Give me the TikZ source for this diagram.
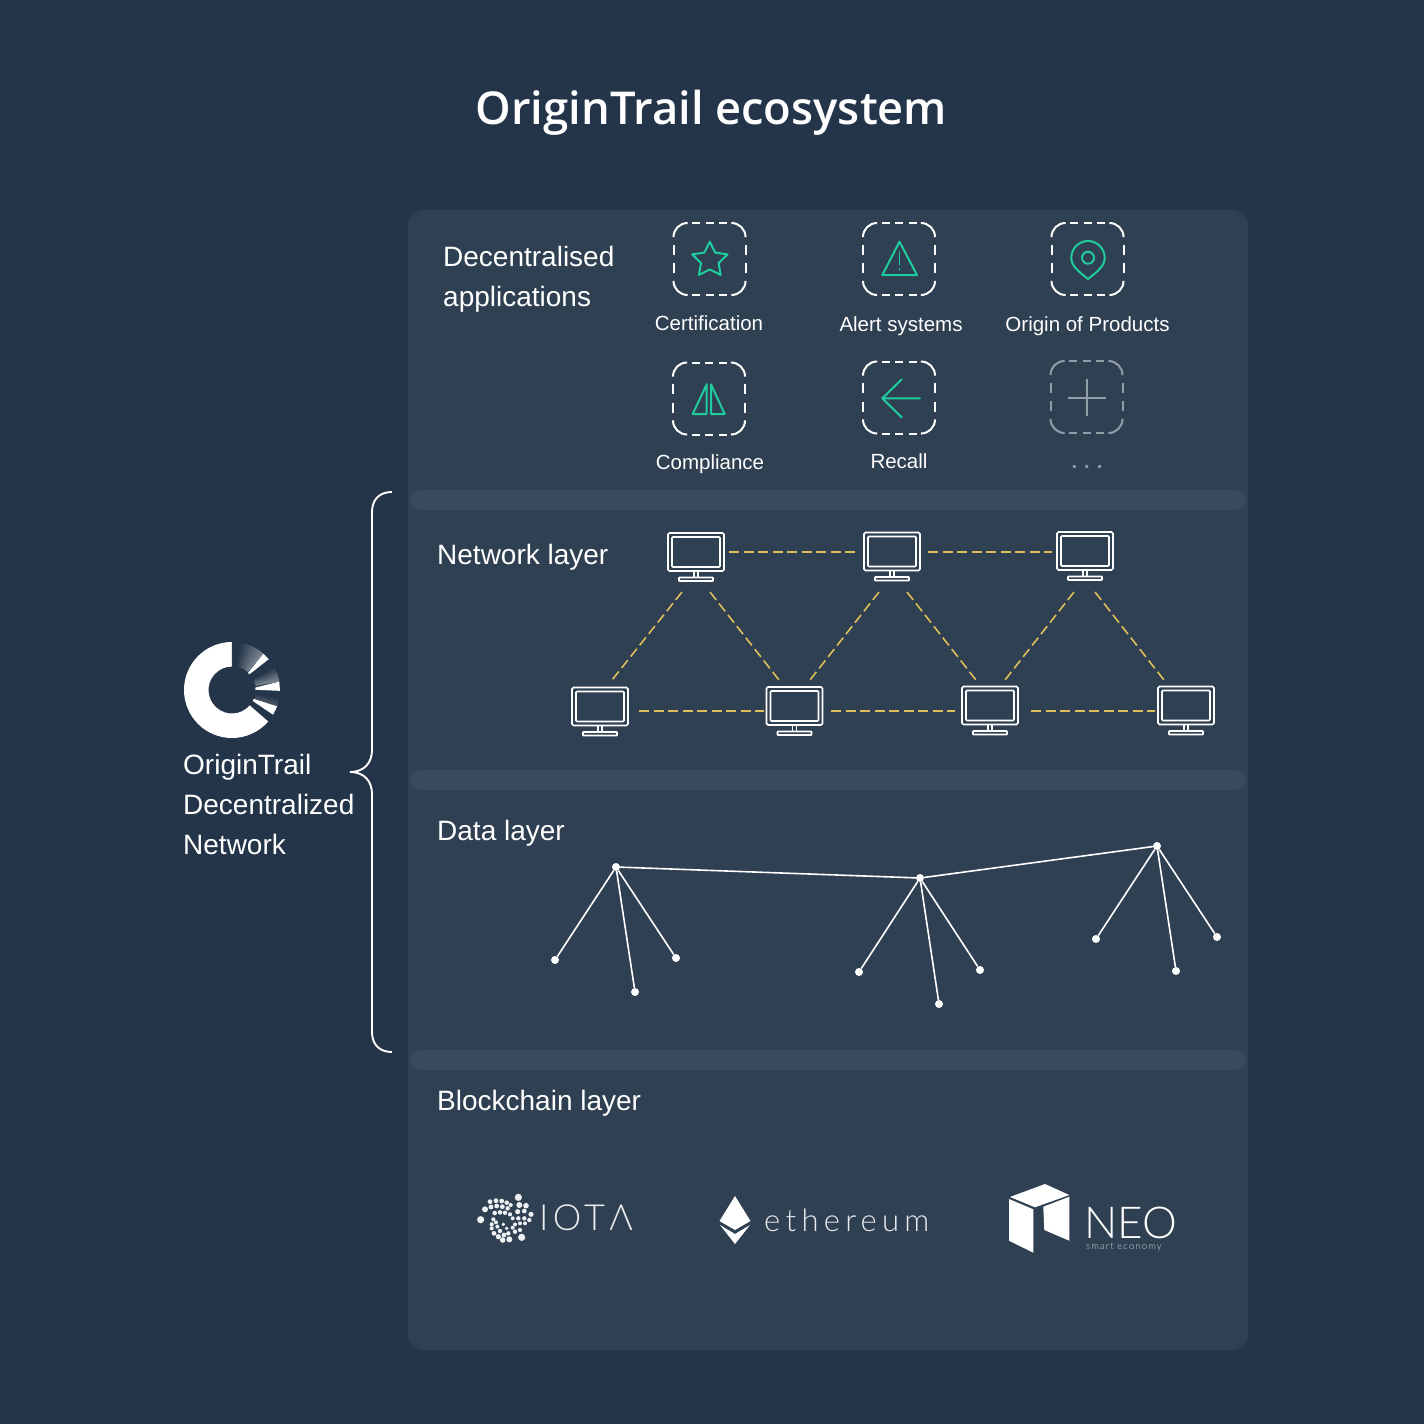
\documentclass[tikz,border=0pt]{standalone}
\usepackage{fontspec}
\usetikzlibrary{calc}
\setmainfont{Liberation Sans}
\newfontfamily\titlef{Open Sans Semibold}
\newfontfamily\thinf[LetterSpace=17]{Lato Light}
\newfontfamily\thinc[LetterSpace=12]{Lato Light}
\newfontfamily\thinb{Lato Light}
\definecolor{bg}{HTML}{243549}
\definecolor{panel}{HTML}{2F4052}
\definecolor{band}{HTML}{3A4A5D}
\definecolor{teal}{HTML}{20CC9E}
\definecolor{gold}{HTML}{DDBE5A}
\definecolor{muted}{HTML}{939DA8}
\tikzset{
  x=1pt,y=-1pt,
  heading/.style={anchor=base west,inner sep=0pt,text=white,font=\fontsize{28}{40}\selectfont,align=left},
  caption/.style={anchor=base,inner sep=0pt,text=white,font=\fontsize{20.5}{24}\selectfont},
  slot/.style={minimum width=72pt,minimum height=72pt,inner sep=0pt},
  glyph/.style={draw=teal,line width=2pt,line join=round,line cap=round},
  screen/.style={minimum width=56pt,minimum height=38pt,inner sep=0pt},
  link/.style={draw=gold,line width=1.6pt,dash pattern=on 10pt off 4.5pt},
  tree/.style={draw=white,line width=1.6pt},
  dotnode/.style={circle,fill=white,inner sep=0pt,minimum size=8pt},
  dashbox/.pic={
    \draw[pic actions,line width=2pt,rounded corners=14pt,line cap=round]
      (-36,-22.5)--(-36,-36)--(-22.5,-36)
      (22.5,-36)--(36,-36)--(36,-22.5)
      (36,22.5)--(36,36)--(22.5,36)
      (-22.5,36)--(-36,36)--(-36,22.5);
    \draw[pic actions,line width=2pt]
      (-17.5,-36)--(-9.5,-36) (-4,-36)--(4,-36) (9.5,-36)--(17.5,-36)
      (-17.5,36)--(-9.5,36) (-4,36)--(4,36) (9.5,36)--(17.5,36)
      (-36,-14.3)--(-36,-4.3) (-36,4.3)--(-36,14.3)
      (36,-14.3)--(36,-4.3) (36,4.3)--(36,14.3);
  },
  monitor/.pic={
    \draw[white,line width=1.6pt,rounded corners=1.5pt] (-28,-19) rectangle (28,19);
    \draw[white,line width=1.6pt,rounded corners=1pt] (-24,-15) rectangle (24,15);
    \draw[white,line width=1.4pt] (-2,19) rectangle (2,25.5);
    \draw[white,line width=1.6pt,rounded corners=.5pt] (-17,25.5) rectangle (17,29);
  }
}
\begin{document}
\begin{tikzpicture}
\useasboundingbox (0,0) rectangle (1424,1424);
\fill[bg] (0,0) rectangle (1424,1424);
\fill[panel,rounded corners=16pt] (408,210) rectangle (1248,1350);
\foreach \yy in {490,770,1050}
  \fill[band,rounded corners=10pt] (410,\yy) rectangle (1246,\yy+20);

% title
\node[anchor=base,inner sep=0pt,text=white,font=\titlef\fontsize{45.3}{50}\selectfont] (title) at (711.5,124) {OriginTrail ecosystem};

% left brace
\draw[white,line width=1.9pt]
  (392,492) .. controls (379,492) and (372,500) .. (372,512)
  -- (372,750) .. controls (372,762) and (365,772) .. (350,772)
  .. controls (365,772) and (372,782) .. (372,794)
  -- (372,1032) .. controls (372,1044) and (379,1052) .. (392,1052);

% logo
\begin{scope}[shift={(232,690)},x=1pt,y=1pt]
  \fill[white] (90:48) arc[start angle=90,end angle=-41+360,radius=48pt] -- (-41:23.5) arc[start angle=-41+360,end angle=90,radius=23.5pt] -- cycle;
  \foreach \a in {49,...,89}{
    \pgfmathsetmacro\p{max(0,40*(80-\a)/31)}
    \fill[white!\p!bg] (\a:24) -- (\a:48) -- (\a+1.3:48) -- (\a+1.3:24) -- cycle;
  }
  \foreach \a in {10,...,39}{
    \pgfmathsetmacro\p{max(0,42*(28-\a)/18)}
    \fill[white!\p!bg] (\a:24) -- (\a:48) -- (\a+1.3:48) -- (\a+1.3:24) -- cycle;
  }
  \foreach \a in {-20,...,-2}{
    \pgfmathsetmacro\p{max(0,18*(-10-\a)/10)}
    \fill[white!\p!bg] (\a:24) -- (\a:48) -- (\a+1.3:48) -- (\a+1.3:24) -- cycle;
  }
  \fill[white] (42:23.5) -- (40:48) -- (49:48) -- (47:23.5) -- cycle;
  \fill[white] (0.5:23.5) -- (-1:48) -- (10:48) -- (6:23.5) -- cycle;
  \fill[white] (-22:23.5) -- (-20:48) -- (-31:48) -- (-28:23.5) -- cycle;
\end{scope}
\node[heading] (ot) at (183,854) {OriginTrail\\Decentralized\\Network};

% headings
\node[heading] (dapps) at (443,306) {Decentralised\\applications};
\node[heading] (netl) at (437,564) {Network layer};
\node[heading] (datal) at (437,840) {Data layer};
\node[heading] (chainl) at (437,1110) {Blockchain layer};

% application icons
\node[slot] (i1) at (709.5,259) {}; \pic[white] at (i1) {dashbox};
\node[slot] (i2) at (899,259) {};   \pic[white] at (i2) {dashbox};
\node[slot] (i3) at (1087.5,259) {};\pic[white] at (i3) {dashbox};
\node[slot] (i4) at (709,398.5) {}; \pic[white] at (i4) {dashbox};
\node[slot] (i5) at (899,397.5) {}; \pic[white] at (i5) {dashbox};
\node[slot] (i6) at (1086.5,397) {};\pic[muted] at (i6) {dashbox};

\node[caption] (c1) at (709,330) {Certification};
\node[caption] (c2) at (901,331) {Alert systems};
\node[caption] (c3) at (1087.5,331) {Origin of Products};
\node[caption] (c4) at (710,469) {Compliance};
\node[caption] (c5) at (899,468) {Recall};
\node[caption,text=muted,font=\bfseries\fontsize{20}{24}\selectfont] (c6) at (1087,468) {.\hspace{7pt}.\hspace{7pt}.};

% star
\draw[glyph] (709.8,241.7) -- (715.2,252.6) -- (727.5,254.4) -- (718.6,263) -- (720.7,275) -- (709.8,269.4) -- (698.9,275) -- (701,263) -- (692.2,254.4) -- (704.4,252.6) -- cycle;
% alert
\draw[glyph] (899.5,241.7) -- (917,275) -- (882.3,275) -- cycle;
\draw[glyph,line width=1.3pt] (899.5,252) -- (899.5,265);
\fill[teal] (899.5,269.3) circle (1pt);
% pin
\draw[glyph] (1088,279) .. controls (1078,271) and (1071.3,266) .. (1071.3,257.7)
  .. controls (1071.3,248.5) and (1078.8,241) .. (1088,241)
  .. controls (1097.2,241) and (1104.7,248.5) .. (1104.7,257.7)
  .. controls (1104.7,266) and (1098,271) .. (1088,279) -- cycle;
\draw[glyph] (1088,257.7) circle (6);
% compliance
\draw[glyph] (706.7,384.3) -- (706.7,414) -- (692.7,414) -- cycle;
\draw[glyph] (711,384.3) -- (711,414) -- (724.7,414) -- cycle;
% recall
\draw[glyph] (920,398.3) -- (882.3,398.3) (901.7,379.3) -- (882.3,398.3) -- (901.7,417.3);
% more
\draw[muted,line width=1.8pt] (1068.3,397.7) -- (1105.7,397.7) (1086.7,379) -- (1086.7,416);

% network layer
\foreach \n/\px/\py in {t1/696/552,t2/892/551.5,t3/1085/551,b1/600/706.5,b2/794.5/706,b3/990/705.5,b4/1186/705.5}{
  \node[screen] (\n) at (\px,\py) {};
  \pic at (\n) {monitor};
}
\draw[link] ($(t1)+(33,0)$) -- ($(t2)+(-37,0.5)$);
\draw[link] ($(t2)+(36,0.5)$) -- ($(t3)+(-33,1)$);
\draw[link] ($(b1)+(39,4.5)$) -- ($(b2)+(-30.5,5)$);
\draw[link] ($(b2)+(36.5,5)$) -- ($(b3)+(-35,5.5)$);
\draw[link] ($(b3)+(41,5.5)$) -- ($(b4)+(-31,5.5)$);
\draw[link] ($(t1)+(-14,40)$) -- ($(b1)+(12,-26.5)$);
\draw[link] ($(t1)+(14,40)$) -- ($(b2)+(-15.5,-26)$);
\draw[link] ($(t2)+(-13,40.5)$) -- ($(b2)+(15.5,-26)$);
\draw[link] ($(t2)+(15,40.5)$) -- ($(b3)+(-14,-25.5)$);
\draw[link] ($(t3)+(-11,41)$) -- ($(b3)+(15,-25.5)$);
\draw[link] ($(t3)+(10,41)$) -- ($(b4)+(-22,-25.5)$);

% data layer
\foreach \n/\px/\py in {a/616/867,a1/555/960,a2/635/992,a3/676/958,
                        m/920/878,m1/859/972,m2/939/1004,m3/980/970,
                        k/1157/846,k1/1096/939,k2/1176/971,k3/1217/937}
  \node[dotnode] (\n) at (\px,\py) {};
\draw[tree] (a) -- (m) -- (k);
\foreach \r in {a,m,k}\foreach \c in {1,2,3}
  \draw[tree] (\r) -- (\r\c);

% IOTA
\foreach \dx/\dy/\dr in {145/37/3.6,32/104/3.6,155/157/3.6,118/163/3,
  60/50/2.4,78/47/2.4,95/48/2.4,110/53/2.3,122/60/2.1,63/66/2.4,80/63/2.4,97/65/2.4,113/70/2.2,
  45/73/3,74/84/2.3,90/82/2.3,105/83/2.2,120/88/2.1,148/60/3,168/62/2.8,143/80/2.6,163/78/2.4,183/88/2.6,
  128/100/2,145/100/2.2,163/100/2.2,178/105/2.2,70/103/2.1,65/118/2.1,65/130/2.1,78/112/2,82/125/2,90/138/2.2,
  72/145/2.4,85/155/2.6,102/150/2.4,115/145/2.2,128/128/2,110/130/1.9,100/118/1.9,135/118/2,150/115/2,165/115/2,135/140/2.2,150/135/2.1,98/165/2.8}
  \fill[white!92!panel] ({470+\dx/3},{1185+\dy/3}) circle (\dr);
\node[anchor=base west,inner sep=0pt,text=white!90!panel,font=\thinc\fontsize{36}{40}\selectfont] (iota) at (539,1230) {IOTΛ};

% ethereum
\fill[white] (735,1196) -- (750.5,1221) -- (735,1230) -- (719.5,1221) -- cycle;
\fill[white] (720,1225) -- (735,1234) -- (750,1225) -- (735,1244) -- cycle;
\node[anchor=base west,inner sep=0pt,text=white!90!panel,font=\thinf\fontsize{31}{36}\selectfont] (eth) at (764,1231) {ethereum};

% NEO
\fill[white] (1010,1197) -- (1045,1184) -- (1069.3,1195) -- (1035,1207.3) -- cycle;
\fill[white] (1009,1199) -- (1033.3,1209.3) -- (1033.3,1252.7) -- (1009,1240.7) -- cycle;
\fill[white] (1043.3,1206.7) -- (1069.3,1196.7) -- (1069.3,1240.7) -- (1044.3,1230) -- cycle;
\node[anchor=base west,inner sep=0pt,text=white,font=\thinb\fontsize{44}{48}\selectfont] (neo) at (1084,1238.5) {NEO};
\node[anchor=base west,inner sep=0pt,text=white!80!panel,font=\thinc\fontsize{9.5}{10}\selectfont] (neot) at (1086,1249.5) {smart economy};
\end{tikzpicture}
\end{document}
